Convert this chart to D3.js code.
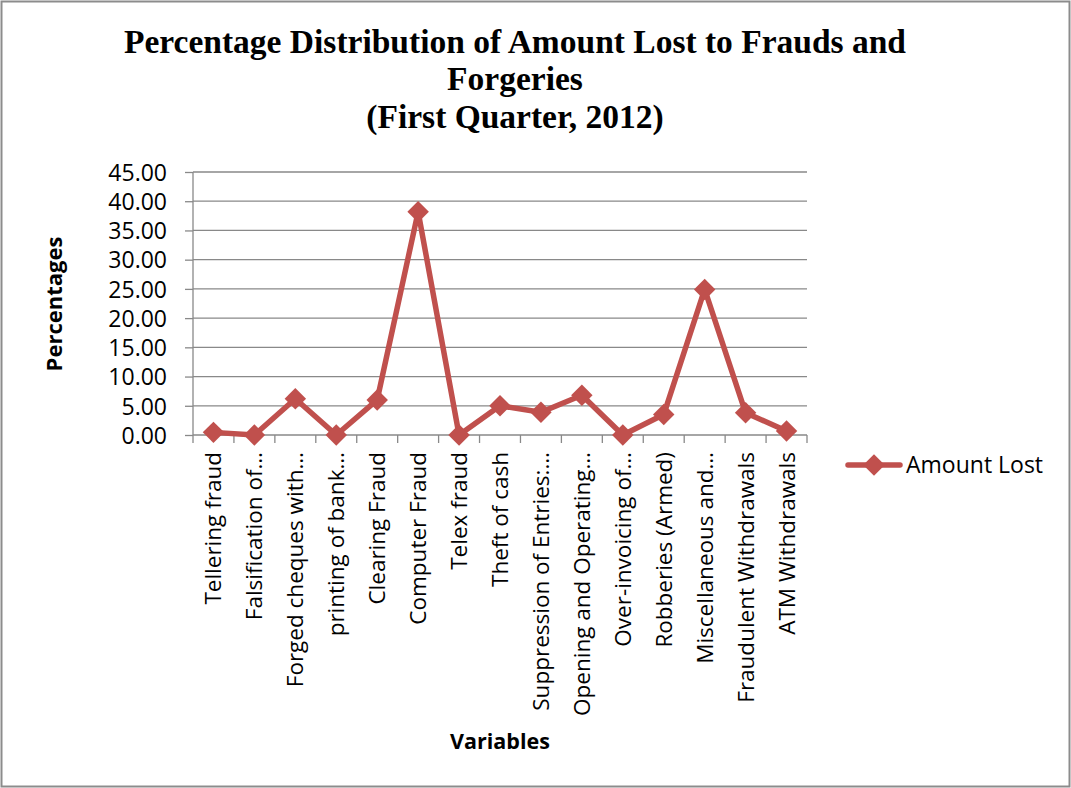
<!DOCTYPE html>
<html>
<head>
<meta charset="utf-8">
<script src="https://cdn.jsdelivr.net/npm/d3@7"></script>
<style>
  html, body { margin: 0; padding: 0; background: #fff; }
  svg { display: block; }
</style>
</head>
<body>
<svg id="chart" width="1071" height="788"></svg>
<script>
const categories = [
  "Tellering fraud", "Falsification of…", "Forged cheques with…", "printing of bank…",
  "Clearing Fraud", "Computer Fraud", "Telex fraud", "Theft of cash",
  "Suppression of Entries:…", "Opening and Operating…", "Over-invoicing of…",
  "Robberies (Armed)", "Miscellaneous and…", "Fraudulent Withdrawals", "ATM Withdrawals"
];
const amountLost = [0.45, 0.0, 6.2, 0.0, 6.0, 38.2, 0.0, 5.0, 3.9, 6.8, 0.0, 3.5, 24.9, 3.8, 0.7];
const yTicks = [0, 5, 10, 15, 20, 25, 30, 35, 40, 45];
const titleLines = ["Percentage Distribution of Amount Lost to Frauds and", "Forgeries", "(First Quarter, 2012)"];
const seriesName = "Amount Lost";
const yTitle = "Percentages";
const xTitle = "Variables";

const svg = d3.select("#chart");
const W = 1071, H = 788;
const plot = { left: 193, right: 807, top: 172, bottom: 435 };
const labelFont = "'Open Sans', 'DejaVu Sans', sans-serif";
const lineColor = "#C0504D";
const gridColor = "#898989";

// outer border
svg.append("rect").attr("x", 1.5).attr("y", 1.5).attr("width", W - 3).attr("height", H - 3)
  .attr("fill", "#fff").attr("stroke", "#8c8c8c").attr("stroke-width", 2);

// title
const title = svg.append("text").attr("text-anchor", "middle")
  .attr("font-family", "'Liberation Serif', 'Times New Roman', serif")
  .attr("font-weight", "bold").attr("font-size", 33.5).attr("fill", "#000");
const titleY = [53, 90, 128];
titleLines.forEach((t, i) => title.append("tspan").attr("x", 515).attr("y", titleY[i]).text(t));

const x = d3.scaleBand().domain(categories).range([plot.left, plot.right]).paddingInner(0).paddingOuter(0);
const y = d3.scaleLinear().domain([0, 45]).range([plot.bottom, plot.top]);

// gridlines
svg.append("g").selectAll("line").data(yTicks.filter(d => d > 0)).join("line")
  .attr("x1", plot.left).attr("x2", plot.right)
  .attr("y1", d => y(d)).attr("y2", d => y(d))
  .attr("stroke", gridColor).attr("stroke-width", 1.3);

// y axis
const yAxis = d3.axisLeft(y).tickValues(yTicks).tickFormat(d3.format(".2f")).tickSize(8).tickPadding(18);
const gy = svg.append("g").attr("transform", `translate(${plot.left},0)`).call(yAxis);
gy.select(".domain").attr("stroke", gridColor).attr("stroke-width", 1.3).attr("d", `M0,${plot.top}V${plot.bottom}`);
gy.selectAll(".tick line").attr("stroke", gridColor).attr("stroke-width", 1.3);
gy.selectAll(".tick text").attr("font-family", labelFont).attr("font-size", 23).attr("fill", "#000")
  .attr("dy", "0.36em");

// x axis line + ticks at boundaries
const gx = svg.append("g");
gx.append("line").attr("x1", plot.left).attr("x2", plot.right).attr("y1", plot.bottom).attr("y2", plot.bottom)
  .attr("stroke", gridColor).attr("stroke-width", 1.3);
const bounds = categories.map(c => x(c)).concat([plot.right]);
gx.selectAll("line.tk").data(bounds).join("line").attr("class", "tk")
  .attr("x1", d => d).attr("x2", d => d).attr("y1", plot.bottom).attr("y2", plot.bottom + 8)
  .attr("stroke", gridColor).attr("stroke-width", 1.3);
gx.selectAll("text").data(categories).join("text")
  .attr("transform", d => `translate(${x(d) + x.bandwidth() / 2 + 8},${plot.bottom + 17}) rotate(-90)`)
  .attr("text-anchor", "end")
  .attr("font-family", labelFont).attr("font-size", 22.5).attr("fill", "#000")
  .text(d => d);

// axis titles
svg.append("text").attr("transform", "translate(62,304) rotate(-90)").attr("text-anchor", "middle")
  .attr("font-family", labelFont).attr("font-weight", "bold").attr("font-size", 22).attr("fill", "#000")
  .text(yTitle);
svg.append("text").attr("x", 500).attr("y", 749).attr("text-anchor", "middle")
  .attr("font-family", labelFont).attr("font-weight", "bold").attr("font-size", 21.5).attr("fill", "#000")
  .text(xTitle);

// series line
const line = d3.line().x((d, i) => x(categories[i]) + x.bandwidth() / 2).y(d => y(d));
svg.append("path").datum(amountLost).attr("d", line).attr("fill", "none")
  .attr("stroke", lineColor).attr("stroke-width", 5.5).attr("stroke-linejoin", "round").attr("stroke-linecap", "round");

// square rotated 45° = equal-diagonal diamond
const diamond = d3.symbol().type(d3.symbolSquare).size(230);
svg.append("g").selectAll("path").data(amountLost).join("path")
  .attr("transform", (d, i) => `translate(${x(categories[i]) + x.bandwidth() / 2},${y(d)}) rotate(45)`)
  .attr("d", diamond).attr("fill", lineColor);

// legend
const lg = svg.append("g");
lg.append("line").attr("x1", 848).attr("x2", 900).attr("y1", 465).attr("y2", 465)
  .attr("stroke", lineColor).attr("stroke-width", 5.5).attr("stroke-linecap", "round");
lg.append("path").attr("transform", "translate(874,465) rotate(45)").attr("d", diamond).attr("fill", lineColor);
lg.append("text").attr("x", 906).attr("y", 473).attr("font-family", labelFont).attr("font-size", 23)
  .attr("fill", "#000").text(seriesName);
</script>
</body>
</html>
